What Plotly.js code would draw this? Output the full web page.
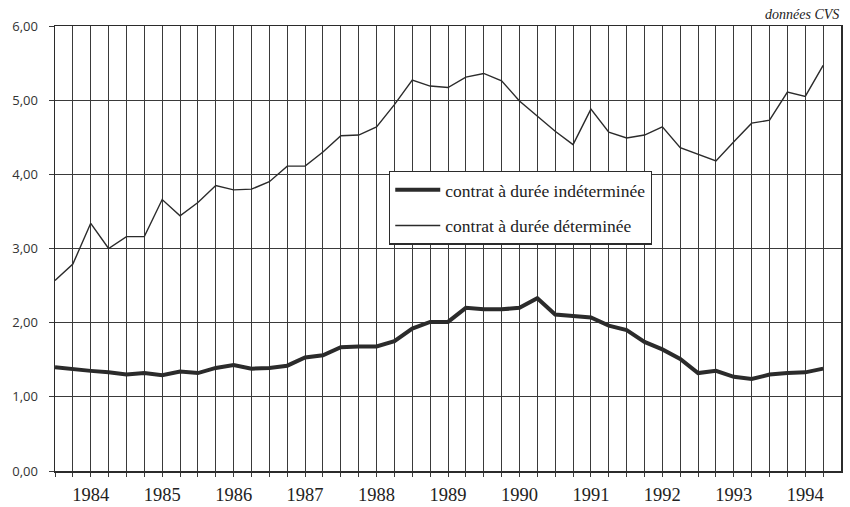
<!DOCTYPE html>
<html>
<head>
<meta charset="utf-8">
<script src="https://cdn.plot.ly/plotly-3.0.1.min.js"></script>
<style>html,body{margin:0;padding:0;background:#fff;}#chart{width:850px;height:507px;}</style>
</head>
<body>
<div id="chart"></div>
<script>
// Quarterly data, 1984 T1 to 1994 T4
const years = [1984,1985,1986,1987,1988,1989,1990,1991,1992,1993,1994];
const quarters = [];
years.forEach(y => { for (let q = 1; q <= 4; q++) quarters.push(y + 'T' + q); });

const seriesNames = ['contrat à durée indéterminée', 'contrat à durée déterminée'];

const cdi = [1.40,1.37,1.35,1.33,1.30,1.32,1.29,1.34,1.32,1.39,1.43,1.38,1.39,1.42,
             1.53,1.56,1.67,1.68,1.68,1.75,1.92,2.01,2.01,2.20,2.18,2.18,2.20,2.33,
             2.11,2.09,2.07,1.96,1.90,1.74,1.64,1.51,1.32,1.35,1.27,1.24,1.30,1.32,1.33,1.38];

const cdd = [2.57,2.79,3.34,3.00,3.16,3.16,3.66,3.44,3.62,3.85,3.79,3.80,3.90,4.11,
             4.11,4.30,4.52,4.53,4.64,4.94,5.27,5.19,5.17,5.31,5.36,5.26,4.99,4.79,
             4.58,4.40,4.88,4.57,4.49,4.53,4.64,4.36,4.27,4.18,4.44,4.69,4.73,5.11,5.05,5.47];

const yTicks = [0,1,2,3,4,5,6];

const tickText = quarters.map(q => q.endsWith('T3') ? q.slice(0,4) : '');

const ink = '#2b2b2b';
const grid = '#3a3a3a';

const traces = [
  {x: quarters, y: cdi, name: seriesNames[0], type: 'scatter', mode: 'lines',
   line: {color: ink, width: 4}, legendgroup: 'a'},
  {x: quarters, y: cdd, name: seriesNames[1], type: 'scatter', mode: 'lines',
   line: {color: ink, width: 1.4}, legendgroup: 'b'}
];

const layout = {
  width: 850, height: 507,
  margin: {l: 55, r: 9, t: 26, b: 36},
  paper_bgcolor: '#ffffff', plot_bgcolor: '#ffffff',
  separators: ', ',
  showlegend: true,
  legend: {
    x: 0.425, y: 0.675, xanchor: 'left', yanchor: 'top',
    bgcolor: '#ffffff', bordercolor: ink, borderwidth: 1.2,
    font: {family: 'Liberation Serif', size: 17.5, color: '#222'},
    traceorder: 'grouped', tracegroupgap: 10, itemwidth: 45
  },
  xaxis: {
    type: 'category',
    categoryorder: 'array', categoryarray: quarters,
    range: [0, 44],
    tickmode: 'array', tickvals: quarters, ticktext: tickText,
    ticks: 'outside', ticklen: 4, tickcolor: grid, tickwidth: 1,
    showgrid: true, gridcolor: grid, gridwidth: 1,
    showline: true, linecolor: ink, linewidth: 1.5, mirror: true,
    zeroline: false,
    tickfont: {family: 'Liberation Serif', size: 18.5, color: '#222'},
    ticklabelstandoff: 2
  },
  yaxis: {
    range: [0, 6],
    tickmode: 'array', tickvals: yTicks,
    tickformat: '.2f',
    ticks: 'outside', ticklen: 5, tickcolor: grid,
    showgrid: true, gridcolor: grid, gridwidth: 1,
    showline: true, linecolor: ink, linewidth: 1.5, mirror: true,
    zeroline: false,
    tickfont: {family: 'Open Sans', size: 13, color: '#333'},
    ticklabelstandoff: 8
  },
  annotations: [{
    text: 'données CVS', xref: 'paper', yref: 'paper', x: 1, y: 1,
    xanchor: 'right', yanchor: 'bottom', showarrow: false, yshift: 2,
    font: {family: 'Liberation Serif', size: 14, color: '#222', style: 'italic'}
  }]
};

Plotly.newPlot('chart', traces, layout, {displayModeBar: false, staticPlot: true});
</script>
</body>
</html>
